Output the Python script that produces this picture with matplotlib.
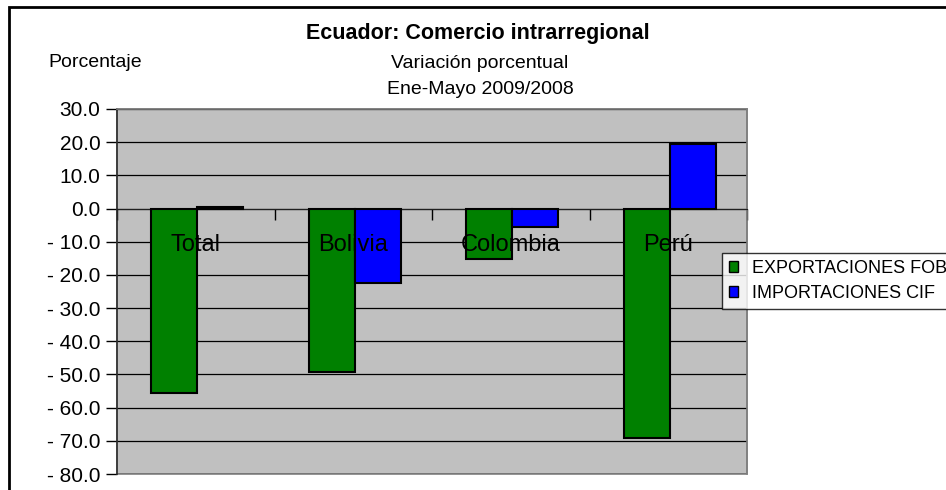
import numpy as np
import matplotlib
matplotlib.use('Agg')
import matplotlib.pyplot as plt
import matplotlib.patches as mpatches
from matplotlib.ticker import FuncFormatter

plt.rcParams['font.family'] = ['Liberation Sans', 'DejaVu Sans']

#%% data
categories = ['Total', 'Bolivia', 'Colombia', 'Perú']
exportaciones = [-55.7, -49.4, -15.1, -69.0]
importaciones = [0.6, -22.4, -5.6, 19.5]
series_names = ['EXPORTACIONES FOB', 'IMPORTACIONES CIF']
yticks = [30, 20, 10, 0, -10, -20, -30, -40, -50, -60, -70, -80]

colExp = '#008000'
colImp = '#0000FF'
bgcolor = '#C0C0C0'

W, H = 946, 490
fig = plt.figure(figsize=(W/100, H/100), dpi=100)
ax = fig.add_axes([117/W, (H-474)/H, 630/W, 365/H])
ax.set_facecolor(bgcolor)

x = np.arange(len(categories)) + 0.51
bw = 0.293
ax.bar(x - bw/2, exportaciones, bw, color=colExp, edgecolor='black', lw=1.5,
       zorder=3, label=series_names[0])
ax.bar(x + bw/2, importaciones, bw, color=colImp, edgecolor='black', lw=1.5,
       zorder=3, label=series_names[1])

ax.set_xlim(0, len(categories))
ax.set_ylim(min(yticks), max(yticks))
ax.set_yticks(yticks)
ax.yaxis.set_major_formatter(FuncFormatter(
    lambda v, p: ('- %.1f' % abs(v)) if v < 0 else '%.1f' % v))
ax.tick_params(axis='y', direction='out', length=8, width=1, labelsize=15, pad=4)
ax.grid(axis='y', color='black', lw=0.9, zorder=1)
ax.set_axisbelow(True)

# x axis on zero line, ticks at category boundaries
ax.spines['bottom'].set_position(('data', 0))
ax.spines['bottom'].set_color('#202020')
ax.set_xticks(np.arange(len(categories) + 1))
ax.set_xticklabels([])
ax.tick_params(axis='x', direction='out', length=8, width=1)
ax.spines['left'].set_color('#303030')
ax.spines['left'].set_linewidth(1.2)
for s in ['top', 'right']:
    ax.spines[s].set_color('#808080')
    ax.spines[s].set_linewidth(1.2)
ax.add_patch(mpatches.Rectangle((0, 0), 1, 1, transform=ax.transAxes, fill=False,
                                ec='#808080', lw=1.2, zorder=0, clip_on=False))

# category labels
for xi, lbl in zip(np.arange(len(categories)) + 0.5, categories):
    ax.text(xi, -12.9, lbl, ha='center', va='baseline', fontsize=17, zorder=5)

# titles
fig.text(478/W, 1 - 33.5/H, 'Ecuador: Comercio intrarregional', ha='center',
         va='center', fontsize=15.5, fontweight='bold')
fig.text(48/W, 1 - 62.5/H, 'Porcentaje', ha='left', va='center', fontsize=14)
fig.text(480/W, 1 - 63.5/H, 'Variación porcentual', ha='center', va='center', fontsize=14)
fig.text(480/W, 1 - 90/H, 'Ene-Mayo 2009/2008', ha='center', va='center', fontsize=14)

# legend (runs off the right edge like the reference)
leg = fig.legend(loc='upper left', bbox_to_anchor=(722/W, 1 - 252.7/H),
                 fontsize=13, frameon=True, fancybox=False, shadow=False,
                 handlelength=0.5, handleheight=0.5, handletextpad=0.75,
                 borderpad=0.4, labelspacing=0.45, borderaxespad=0)
leg.get_frame().set_edgecolor('black')
leg.get_frame().set_linewidth(1)
leg.get_frame().set_facecolor('white')
for h in leg.legend_handles:
    h.set_linewidth(1)

# outer chart border
fig.patches.append(mpatches.Rectangle((9/W, -0.2), 2, 1.2 - 7/H, transform=fig.transFigure,
                                      fill=False, ec='black', lw=2))

plt.savefig('out.png', dpi=100)
